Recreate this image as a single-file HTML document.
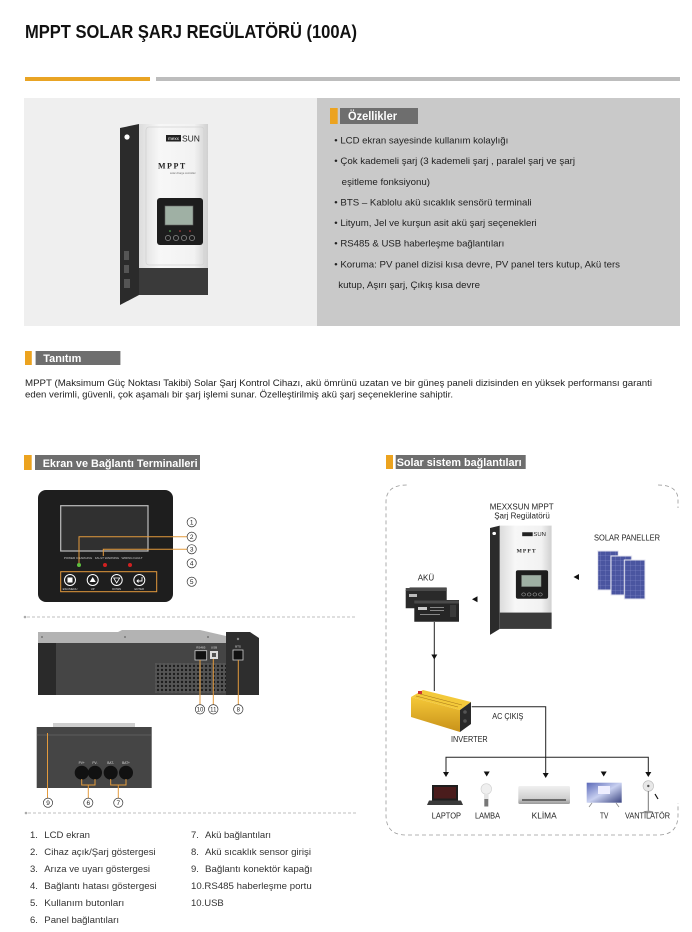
<!DOCTYPE html>
<html><head><meta charset="utf-8"><style>
html,body{margin:0;padding:0;background:#fff;}
svg{display:block;font-family:"Liberation Sans",Arial,sans-serif;}
</style></head><body>
<svg width="692" height="932" viewBox="0 0 692 932" xmlns="http://www.w3.org/2000/svg">
<defs>
<linearGradient id="silver" x1="0" y1="0" x2="1" y2="0">
<stop offset="0" stop-color="#dcdcdc"/><stop offset="0.3" stop-color="#f7f7f7"/><stop offset="0.8" stop-color="#f2f2f2"/><stop offset="1" stop-color="#d0d0d0"/>
</linearGradient>
<linearGradient id="gold" x1="0" y1="0" x2="0" y2="1">
<stop offset="0" stop-color="#f5c838"/><stop offset="1" stop-color="#c8921a"/>
</linearGradient>
<linearGradient id="ac" x1="0" y1="0" x2="0" y2="1">
<stop offset="0" stop-color="#f0f0f0"/><stop offset="0.7" stop-color="#cfcfcf"/><stop offset="1" stop-color="#9a9a9a"/>
</linearGradient>
<linearGradient id="tvg" x1="0" y1="0" x2="1" y2="1">
<stop offset="0" stop-color="#5a68b8"/><stop offset="0.5" stop-color="#c8d0f0"/><stop offset="1" stop-color="#3a4480"/>
</linearGradient>
<pattern id="vent" width="4" height="4" patternUnits="userSpaceOnUse"><rect width="4" height="4" fill="#555"/><circle cx="2" cy="2" r="1.2" fill="#1c1c1c"/></pattern>
<pattern id="cells" width="5" height="5" patternUnits="userSpaceOnUse"><rect width="5" height="5" fill="#4a55a0"/><path d="M0,0H5M0,0V5" stroke="#8a93cf" stroke-width="0.5"/></pattern>
</defs>

<!-- Title -->
<text x="25" y="38" font-size="18" font-weight="bold" fill="#111" textLength="332" lengthAdjust="spacingAndGlyphs">MPPT SOLAR ŞARJ REGÜLATÖRÜ (100A)</text>
<rect x="25" y="77" width="125" height="4" fill="#e9a424"/>
<rect x="156" y="77" width="524" height="4" fill="#bdbdbd"/>

<!-- Feature box -->
<rect x="24" y="98" width="293" height="228" fill="#efefef"/>
<rect x="317" y="98" width="363" height="228" fill="#c9c9c9"/>

<!-- Product device top -->
<g transform="translate(120,123)">
 <polygon points="0,5 19,1 19,172 0,182" fill="#2b2b2b"/>
 <circle cx="7" cy="14" r="2.6" fill="#fff"/>
 <rect x="4" y="128" width="5" height="9" fill="#555"/>
 <rect x="4" y="142" width="5" height="8" fill="#555"/>
 <rect x="4" y="156" width="6" height="9" fill="#555"/>
 <rect x="19" y="1" width="69" height="171" fill="url(#silver)"/>
 <rect x="26" y="4" width="58" height="138" rx="3" fill="none" stroke="#d2d2d2" stroke-width="0.8"/>
 <rect x="19" y="145" width="69" height="27" fill="#3a3a3a"/>
 <rect x="46" y="12" width="15" height="6.5" fill="#222"/>
 <text x="53.5" y="17" font-size="4.5" fill="#fff" text-anchor="middle">mexx</text>
 <text x="62" y="18.5" font-size="8.5" fill="#222">SUN</text>
 <text x="38" y="45.5" font-size="8" font-weight="bold" font-family="Liberation Serif, serif" fill="#222" letter-spacing="1.5">MPPT</text>
 <text x="50" y="51" font-size="2.6" fill="#666">solar charge controller</text>
 <rect x="37" y="75" width="46" height="47" rx="3" fill="#1d1d1d"/>
 <rect x="45" y="83" width="28" height="19" fill="#9fb0a4" stroke="#666" stroke-width="0.6"/>
 <circle cx="48" cy="115" r="2.6" fill="none" stroke="#aaa" stroke-width="0.6"/>
 <circle cx="56" cy="115" r="2.6" fill="none" stroke="#aaa" stroke-width="0.6"/>
 <circle cx="64" cy="115" r="2.6" fill="none" stroke="#aaa" stroke-width="0.6"/>
 <circle cx="72" cy="115" r="2.6" fill="none" stroke="#aaa" stroke-width="0.6"/>
 <circle cx="50" cy="108" r="0.8" fill="#6c6"/><circle cx="60" cy="108" r="0.8" fill="#c44"/><circle cx="70" cy="108" r="0.8" fill="#c44"/>
</g>

<!-- Özellikler -->
<rect x="330" y="108" width="7.7" height="16" fill="#eca31f"/>
<rect x="340" y="108" width="78" height="16" fill="#6e6e6e"/>
<text x="348" y="120" font-size="11.5" font-weight="bold" fill="#fff" textLength="49" lengthAdjust="spacingAndGlyphs">Özellikler</text>
<g font-size="9.5" fill="#222">
<text x="334.3" y="143.5" textLength="174" lengthAdjust="spacingAndGlyphs">• LCD ekran sayesinde kullanım kolaylığı</text>
<text x="334.3" y="164" textLength="240.7" lengthAdjust="spacingAndGlyphs">• Çok kademeli şarj (3 kademeli şarj , paralel şarj ve şarj</text>
<text x="341.7" y="185" textLength="88.3" lengthAdjust="spacingAndGlyphs">eşitleme fonksiyonu)</text>
<text x="334.3" y="205.5" textLength="197.4" lengthAdjust="spacingAndGlyphs">• BTS – Kablolu akü sıcaklık sensörü terminali</text>
<text x="334.3" y="226" textLength="202.4" lengthAdjust="spacingAndGlyphs">• Lityum, Jel ve kurşun asit akü şarj seçenekleri</text>
<text x="334.3" y="246.5" textLength="170" lengthAdjust="spacingAndGlyphs">• RS485 &amp; USB haberleşme bağlantıları</text>
<text x="334.3" y="267.5" textLength="285.7" lengthAdjust="spacingAndGlyphs">• Koruma: PV panel dizisi kısa devre, PV panel ters kutup, Akü ters</text>
<text x="338.3" y="288" textLength="141.7" lengthAdjust="spacingAndGlyphs">kutup, Aşırı şarj, Çıkış kısa devre</text>
</g>

<!-- Tanıtım -->
<rect x="25" y="351" width="6.8" height="14" fill="#eca31f"/>
<rect x="35.6" y="351" width="84.8" height="14" fill="#6e6e6e"/>
<text x="43.3" y="362" font-size="11" font-weight="bold" fill="#fff" textLength="38" lengthAdjust="spacingAndGlyphs">Tanıtım</text>
<g font-size="9.5" fill="#222">
<text x="25" y="386" textLength="627" lengthAdjust="spacingAndGlyphs">MPPT (Maksimum Güç Noktası Takibi) Solar Şarj Kontrol Cihazı, akü ömrünü uzatan ve bir güneş paneli dizisinden en yüksek performansı garanti</text>
<text x="25" y="397.5" textLength="428" lengthAdjust="spacingAndGlyphs">eden verimli, güvenli, çok aşamalı bir şarj işlemi sunar. Özelleştirilmiş akü şarj seçeneklerine sahiptir.</text>
</g>

<!-- Section headers -->
<rect x="24" y="455" width="7.7" height="15" fill="#eca31f"/>
<rect x="35" y="455" width="165" height="15" fill="#6e6e6e"/>
<text x="42.7" y="467" font-size="11" font-weight="bold" fill="#fff" textLength="155" lengthAdjust="spacingAndGlyphs">Ekran ve Bağlantı Terminalleri</text>
<rect x="386" y="455" width="7" height="14" fill="#eca31f"/>
<rect x="395.7" y="455" width="130" height="14" fill="#6e6e6e"/>
<text x="396.7" y="466" font-size="11" font-weight="bold" fill="#fff" textLength="125" lengthAdjust="spacingAndGlyphs">Solar sistem bağlantıları</text>

<!-- Front panel -->
<rect x="38" y="490" width="135" height="112" rx="8" fill="#1e1e1e"/>
<rect x="60.7" y="505.7" width="87.3" height="45.3" fill="#303030" stroke="#bdbdbd" stroke-width="1.2"/>
<g font-size="3" fill="#ccc" text-anchor="middle">
<text x="78" y="559">POWER CHARGING</text>
<text x="107" y="559">FAULT WARNING</text>
<text x="132" y="559">WIRING FAULT</text>
</g>
<circle cx="79" cy="565" r="2" fill="#5fbf3f"/>
<circle cx="105" cy="565" r="2" fill="#d02020"/>
<circle cx="130" cy="565" r="2" fill="#d02020"/>
<rect x="60.7" y="571.7" width="96" height="20" fill="none" stroke="#e39a3c" stroke-width="1"/>
<g fill="none" stroke="#fff" stroke-width="1">
<circle cx="70" cy="580" r="5.5"/><circle cx="92.7" cy="580" r="5.5"/><circle cx="116.7" cy="580" r="5.5"/><circle cx="139.3" cy="580" r="5.5"/>
</g>
<rect x="67.5" y="577.5" width="5" height="5" fill="#fff"/>
<polygon points="92.7,577 95.7,582 89.7,582" fill="#fff"/>
<polygon points="113.7,578 119.7,578 116.7,583" fill="none" stroke="#fff" stroke-width="0.8"/>
<path d="M142,577 V581 H137 M138.5,579.5 L137,581 L138.5,582.5" fill="none" stroke="#fff" stroke-width="0.9"/>
<g font-size="2.8" fill="#ddd" text-anchor="middle">
<text x="70" y="590">ESC/MENU</text><text x="92.7" y="590">UP</text><text x="116.7" y="590">DOWN</text><text x="139.3" y="590">ENTER</text>
</g>
<path d="M79,563 V536.7 H187" fill="none" stroke="#e39a3c" stroke-width="1"/>
<path d="M103.3,556 V549.3 H187" fill="none" stroke="#e39a3c" stroke-width="1"/>
<g font-size="6.5" fill="#222" text-anchor="middle">
<circle cx="191.7" cy="522.3" r="4.6" fill="#fff" stroke="#333" stroke-width="0.7"/><text x="191.7" y="524.6">1</text>
<circle cx="191.7" cy="536.7" r="4.6" fill="#fff" stroke="#333" stroke-width="0.7"/><text x="191.7" y="539">2</text>
<circle cx="191.7" cy="549.3" r="4.6" fill="#fff" stroke="#333" stroke-width="0.7"/><text x="191.7" y="551.6">3</text>
<circle cx="191.7" cy="563.3" r="4.6" fill="#fff" stroke="#333" stroke-width="0.7"/><text x="191.7" y="565.6">4</text>
<circle cx="191.7" cy="581.7" r="4.6" fill="#fff" stroke="#333" stroke-width="0.7"/><text x="191.7" y="584">5</text>
</g>

<!-- separator -->
<circle cx="25" cy="617" r="1.3" fill="#aaa"/>
<line x1="27" y1="617" x2="356" y2="617" stroke="#aaa" stroke-width="0.7" stroke-dasharray="3,2"/>

<!-- Side view -->
<polygon points="38,632 118,632 122,630 200,630 226,636 226,643 38,643" fill="#b3b3b3"/>
<circle cx="42" cy="637" r="1" fill="#777"/><circle cx="125" cy="637" r="1" fill="#777"/><circle cx="208" cy="637" r="1" fill="#777"/>
<rect x="38" y="643" width="189" height="52" fill="#454545"/>
<rect x="38" y="643" width="18" height="52" fill="#2a2a2a"/>
<rect x="155" y="663" width="101" height="30" fill="url(#vent)"/>
<polygon points="226,632 250,632 259,638 259,695 226,695" fill="#2e2e2e"/>
<circle cx="238" cy="639" r="1.2" fill="#888"/>
<rect x="195" y="650.7" width="11.7" height="9.3" fill="#111" stroke="#ccc" stroke-width="0.8"/>
<rect x="210" y="651" width="8" height="8" fill="#ddd"/><rect x="212" y="653" width="4" height="4" fill="#555"/>
<rect x="233" y="650" width="10" height="10" fill="#111" stroke="#ccc" stroke-width="0.8"/>
<g font-size="3" fill="#ddd" text-anchor="middle"><text x="200.8" y="648.5">RS485</text><text x="214" y="648.5">USB</text><text x="238" y="647.5">BTS</text></g>
<g stroke="#e39a3c" stroke-width="1"><line x1="200" y1="660" x2="200" y2="704.5"/><line x1="213.3" y1="659" x2="213.3" y2="704.5"/><line x1="238.3" y1="660" x2="238.3" y2="704.5"/></g>
<g font-size="6" fill="#222" text-anchor="middle">
<circle cx="200" cy="709.3" r="4.7" fill="#fff" stroke="#333" stroke-width="0.7"/><text x="200" y="711.4">10</text>
<circle cx="213.3" cy="709.3" r="4.7" fill="#fff" stroke="#333" stroke-width="0.7"/><text x="213.3" y="711.4">11</text>
<circle cx="238.3" cy="709.3" r="4.7" fill="#fff" stroke="#333" stroke-width="0.7"/><text x="238.3" y="711.4">8</text>
</g>

<!-- Bottom view -->
<rect x="53" y="723" width="82" height="4" fill="#cfcfcf"/>
<rect x="36.7" y="727" width="115" height="61" fill="#454545"/>
<line x1="36.7" y1="735" x2="151.7" y2="735" stroke="#666" stroke-width="0.8"/>
<g fill="#111"><circle cx="81.7" cy="772.7" r="7"/><circle cx="95" cy="772.7" r="7"/><circle cx="110.7" cy="772.7" r="7"/><circle cx="126" cy="772.7" r="7"/></g>
<g font-size="3.2" fill="#ddd" text-anchor="middle"><text x="81.7" y="764">PV+</text><text x="95" y="764">PV-</text><text x="110.7" y="764">BAT-</text><text x="126" y="764">BAT+</text></g>
<g fill="none" stroke="#e39a3c" stroke-width="1">
<path d="M81.7,779 V785 H95 V779 M88.3,785 V798"/>
<path d="M110.7,779 V785 H126 V779 M118.3,785 V798"/>
<path d="M47.5,733 V798"/>
</g>
<g font-size="6.5" fill="#222" text-anchor="middle">
<circle cx="48" cy="802.7" r="4.6" fill="#fff" stroke="#333" stroke-width="0.7"/><text x="48" y="805">9</text>
<circle cx="88.3" cy="802.7" r="4.6" fill="#fff" stroke="#333" stroke-width="0.7"/><text x="88.3" y="805">6</text>
<circle cx="118.3" cy="802.7" r="4.6" fill="#fff" stroke="#333" stroke-width="0.7"/><text x="118.3" y="805">7</text>
</g>

<circle cx="26" cy="813" r="1.3" fill="#aaa"/>
<line x1="28" y1="813" x2="356" y2="813" stroke="#aaa" stroke-width="0.7" stroke-dasharray="3,2"/>

<!-- List -->
<g font-size="9.5" fill="#333">
<text x="30" y="838">1.</text><text x="44.3" y="838" textLength="45.7" lengthAdjust="spacingAndGlyphs">LCD ekran</text>
<text x="30" y="855">2.</text><text x="44.3" y="855" textLength="111.4" lengthAdjust="spacingAndGlyphs">Cihaz açık/Şarj göstergesi</text>
<text x="30" y="872">3.</text><text x="44.3" y="872" textLength="105.7" lengthAdjust="spacingAndGlyphs">Arıza ve uyarı göstergesi</text>
<text x="30" y="889">4.</text><text x="44.3" y="889" textLength="112.4" lengthAdjust="spacingAndGlyphs">Bağlantı hatası göstergesi</text>
<text x="30" y="906">5.</text><text x="44.3" y="906" textLength="80" lengthAdjust="spacingAndGlyphs">Kullanım butonları</text>
<text x="30" y="923">6.</text><text x="44.3" y="923" textLength="74.7" lengthAdjust="spacingAndGlyphs">Panel bağlantıları</text>
<text x="191" y="838">7.</text><text x="205" y="838" textLength="66" lengthAdjust="spacingAndGlyphs">Akü bağlantıları</text>
<text x="191" y="855">8.</text><text x="205" y="855" textLength="106" lengthAdjust="spacingAndGlyphs">Akü sıcaklık sensor girişi</text>
<text x="191" y="872">9.</text><text x="205" y="872" textLength="107.3" lengthAdjust="spacingAndGlyphs">Bağlantı konektör kapağı</text>
<text x="191" y="889" textLength="120.7" lengthAdjust="spacingAndGlyphs">10.RS485 haberleşme portu</text>
<text x="191" y="906">10.USB</text>
</g>

<!-- Solar diagram frame -->
<g fill="none" stroke="#9a9a9a" stroke-width="0.8" stroke-dasharray="4,3">
<path d="M406.7,485 Q386,485 386,502 V815 Q386,835 406,835 H658 Q678,835 678,815 V803"/>
<path d="M658,485 Q678,485 678,500 V508"/>
</g>

<!-- Solar device -->
<text x="521.7" y="509.5" font-size="8" fill="#222" text-anchor="middle">MEXXSUN MPPT</text>
<text x="522" y="518.5" font-size="8" fill="#222" text-anchor="middle">Şarj Regülatörü</text>
<g transform="translate(490,525) scale(0.70,0.604)">
 <polygon points="0,5 14,1 14,172 0,182" fill="#2b2b2b"/>
 <circle cx="6" cy="14" r="2.6" fill="#fff"/>
 <rect x="14" y="1" width="74" height="171" fill="url(#silver)"/>
 <rect x="14" y="145" width="74" height="27" fill="#3a3a3a"/>
 <rect x="46" y="12" width="15" height="6.5" fill="#222"/>
 <text x="62" y="18.5" font-size="8.5" fill="#222">SUN</text>
 <text x="38" y="45.5" font-size="8" font-weight="bold" font-family="Liberation Serif, serif" fill="#222" letter-spacing="1.5">MPPT</text>
 <rect x="37" y="75" width="46" height="47" rx="3" fill="#1d1d1d"/>
 <rect x="45" y="83" width="28" height="19" fill="#9fb0a4" stroke="#666" stroke-width="0.6"/>
 <circle cx="48" cy="115" r="2.6" fill="none" stroke="#aaa" stroke-width="0.8"/>
 <circle cx="56" cy="115" r="2.6" fill="none" stroke="#aaa" stroke-width="0.8"/>
 <circle cx="64" cy="115" r="2.6" fill="none" stroke="#aaa" stroke-width="0.8"/>
 <circle cx="72" cy="115" r="2.6" fill="none" stroke="#aaa" stroke-width="0.8"/>
</g>

<!-- Solar panels -->
<text x="594" y="540.5" font-size="8" fill="#222" textLength="66" lengthAdjust="spacingAndGlyphs">SOLAR PANELLER</text>
<rect x="597.7" y="551" width="20.6" height="39" fill="url(#cells)" stroke="#e6e6f0" stroke-width="1"/>
<rect x="611" y="556" width="20.7" height="39" fill="url(#cells)" stroke="#e6e6f0" stroke-width="1"/>
<rect x="624.3" y="560" width="20.7" height="39" fill="url(#cells)" stroke="#e6e6f0" stroke-width="1"/>

<!-- Batteries -->
<text x="417.7" y="580.5" font-size="8" fill="#222">AKÜ</text>
<polygon points="405.7,590 410,587.5 446.7,587.5 446.7,608.3 405.7,608.3" fill="#2a2a2a"/>
<rect x="405.7" y="588" width="41" height="3" fill="#4a4a4a"/>
<rect x="409" y="594" width="8" height="3" fill="#bbb"/>
<polygon points="414.3,603 418,600 459,600 459,621.7 414.3,621.7" fill="#262626"/>
<rect x="414.3" y="600.5" width="44.7" height="3" fill="#4a4a4a"/>
<rect x="418" y="607" width="9" height="3" fill="#ccc"/>
<rect x="430" y="607" width="14" height="1" fill="#888"/><rect x="430" y="610" width="14" height="1" fill="#888"/><rect x="420" y="614" width="20" height="1" fill="#888"/>
<rect x="450" y="605" width="6" height="12" fill="#3a3a3a"/>

<!-- Arrows & connectors -->
<polygon points="573.5,577 579,574 579,580" fill="#111"/>
<polygon points="472,599.3 477.5,596.3 477.5,602.3" fill="#111"/>
<line x1="434.3" y1="622" x2="434.3" y2="691" stroke="#222" stroke-width="1"/>
<polygon points="431.3,654.5 437.3,654.5 434.3,659.5" fill="#111"/>

<!-- Inverter -->
<polygon points="411,697 423,690 471,702 460,710" fill="#f3c93a"/>
<polygon points="411,697 460,710 460,732 411,717" fill="url(#gold)"/>
<polygon points="460,710 471,702 471,724 460,732" fill="#2a2a2a"/>
<g stroke="#a8781a" stroke-width="0.6"><line x1="420" y1="694" x2="462" y2="705"/><line x1="416" y1="696" x2="458" y2="707"/></g>
<rect x="418" y="691" width="4" height="3" fill="#c33"/>
<circle cx="465" cy="712" r="1.8" fill="#555"/><circle cx="465" cy="721" r="1.8" fill="#555"/>
<text x="451" y="742" font-size="8" fill="#222" textLength="36.7" lengthAdjust="spacingAndGlyphs">INVERTER</text>

<path d="M471.7,706.7 H545.7 V773" fill="none" stroke="#222" stroke-width="1"/>
<text x="492.3" y="719" font-size="8" fill="#222" textLength="31" lengthAdjust="spacingAndGlyphs">AC ÇIKIŞ</text>
<path d="M446,773 V757.3 H648.3 V773" fill="none" stroke="#222" stroke-width="1"/>
<g fill="#111">
<polygon points="443,772 449,772 446,777"/>
<polygon points="645.3,772 651.3,772 648.3,777"/>
<polygon points="542.7,773 548.7,773 545.7,778"/>
<polygon points="483.7,771.5 489.7,771.5 486.7,776.5"/>
<polygon points="600.7,771.5 606.7,771.5 603.7,776.5"/>
</g>

<!-- Appliances -->
<rect x="432" y="785" width="26" height="15.5" fill="#1e1e1e"/>
<rect x="434" y="787" width="22" height="11.5" fill="#4a1c1c"/>
<polygon points="429,800.5 461,800.5 463,805 427,805" fill="#3a3a3a"/>
<circle cx="486.3" cy="789" r="5.3" fill="#efefef" stroke="#d0d0d0" stroke-width="0.6"/>
<rect x="484" y="794" width="4.6" height="5" fill="#e4e4e4"/>
<rect x="484.3" y="799" width="4" height="7.5" fill="#777"/>
<rect x="518.3" y="786" width="51.7" height="18" rx="1.5" fill="url(#ac)"/>
<rect x="522" y="799" width="44" height="2" fill="#6a6a6a"/>
<rect x="586.7" y="782.7" width="35" height="20" fill="url(#tvg)"/>
<rect x="598" y="786" width="12" height="8" fill="#eef"/>
<path d="M592,803 L589,807 M616,803 L619,807" stroke="#888" stroke-width="0.8"/>
<circle cx="648.3" cy="786" r="5.3" fill="#e8e8e8" stroke="#bbb" stroke-width="0.6"/>
<circle cx="648.3" cy="786" r="1.2" fill="#555"/>
<line x1="648.3" y1="791" x2="648.3" y2="811" stroke="#777" stroke-width="1"/>
<line x1="655" y1="794" x2="658" y2="799" stroke="#111" stroke-width="1.2"/>
<ellipse cx="648.3" cy="812" rx="5" ry="1.2" fill="#999"/>
<g font-size="8" fill="#222">
<text x="431.7" y="818.5" textLength="29.3" lengthAdjust="spacingAndGlyphs">LAPTOP</text>
<text x="475" y="818.5" textLength="25" lengthAdjust="spacingAndGlyphs">LAMBA</text>
<text x="531.7" y="818.5" textLength="25" lengthAdjust="spacingAndGlyphs">KLİMA</text>
<text x="600" y="818.5" textLength="8.3" lengthAdjust="spacingAndGlyphs">TV</text>
<text x="625" y="818.5" textLength="45" lengthAdjust="spacingAndGlyphs">VANTİLATÖR</text>
</g>
</svg>
</body></html>
